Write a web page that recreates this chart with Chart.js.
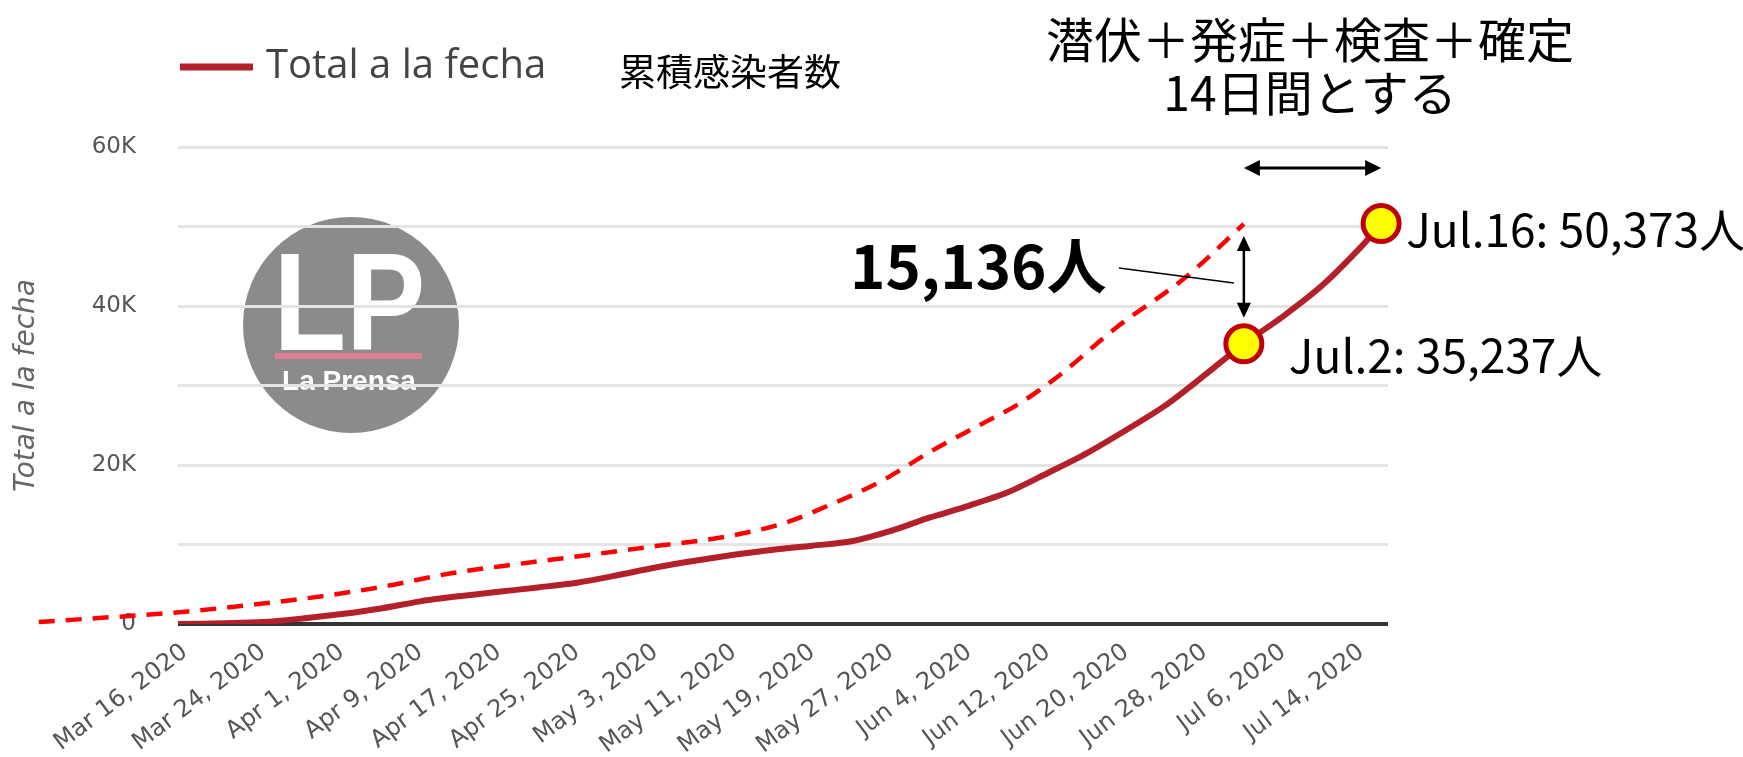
<!DOCTYPE html>
<html><head><meta charset="utf-8">
<script src="https://cdn.jsdelivr.net/npm/chart.js@4.4.1/dist/chart.umd.min.js"></script>
<style>html,body{margin:0;padding:0;background:#fff;}</style>
</head><body>
<canvas id="c" width="1743" height="757"></canvas>
<script>
// Day offsets are counted from Mar 16, 2020 (day 0)
const tickDays = [0, 8, 16, 24, 32, 40, 48, 56, 64, 72, 80, 88, 96, 104, 112, 120];
const tickLabels = ['Mar 16, 2020','Mar 24, 2020','Apr 1, 2020','Apr 9, 2020','Apr 17, 2020','Apr 25, 2020','May 3, 2020','May 11, 2020','May 19, 2020','May 27, 2020','Jun 4, 2020','Jun 12, 2020','Jun 20, 2020','Jun 28, 2020','Jul 6, 2020','Jul 14, 2020'];
const yTickValues = [0, 10000, 20000, 30000, 40000, 50000, 60000];
const yTickLabels = ['0', '', '20K', '', '40K', '', '60K'];

// Total a la fecha (cumulative cases)
const totalDays = [-0.7, 4, 8, 12, 16, 20, 24, 28, 32, 36, 40, 44, 48, 52, 56, 60, 64, 68, 72, 76, 80, 84, 88, 92, 96, 100, 104, 108, 112, 116, 120, 122];
const totalValues = [0, 100, 250, 700, 1250, 1950, 2850, 3500, 4050, 4600, 5200, 6100, 7100, 7950, 8700, 9350, 9850, 10400, 11700, 13400, 14900, 16600, 19000, 21500, 24400, 27500, 31300, 35237, 38700, 42600, 47500, 50373];

// Dashed curve: totals shifted 14 days earlier
const shiftedDays = [-14.9, 0, 7, 14, 20, 27, 34, 41, 48, 55, 61, 66, 71, 76, 81, 85, 89, 95, 102, 108];
const shiftedValues = [250, 1550, 2450, 3500, 4650, 6350, 7550, 8650, 9800, 10950, 12650, 15100, 17950, 21650, 25000, 27650, 31100, 37300, 43550, 50320];

// Highlighted points
const markerDays = [108, 122];
const markerValues = [35237, 50373];
const markerLabels = ['Jul.2: 35,237人', 'Jul.16: 50,373人'];
const gapLabel = '15,136人';
const titleLines = ['潜伏＋発症＋検査＋確定', '14日間とする'];
const legendLabel = 'Total a la fecha';
const legendJa = '累積感染者数';

const toXY = (xs, ys) => xs.map((x, i) => ({x: x, y: ys[i]}));
const JP = '"Noto Sans CJK JP", sans-serif';

function arrow(ctx, x1, y1, x2, y2, head, half, lw) {
  const ang = Math.atan2(y2 - y1, x2 - x1);
  const ux = Math.cos(ang), uy = Math.sin(ang);
  ctx.save();
  ctx.strokeStyle = '#000'; ctx.fillStyle = '#000'; ctx.lineWidth = lw;
  ctx.beginPath();
  ctx.moveTo(x1 + ux * head * 0.8, y1 + uy * head * 0.8);
  ctx.lineTo(x2 - ux * head * 0.8, y2 - uy * head * 0.8);
  ctx.stroke();
  const tri = (px, py, dx, dy) => {
    ctx.beginPath();
    ctx.moveTo(px, py);
    ctx.lineTo(px - dx * head - dy * half, py - dy * head + dx * half);
    ctx.lineTo(px - dx * head + dy * half, py - dy * head - dx * half);
    ctx.closePath(); ctx.fill();
  };
  tri(x2, y2, ux, uy);
  tri(x1, y1, -ux, -uy);
  ctx.restore();
}

const logoPlugin = {
  id: 'logo',
  beforeDraw(chart) {
    const ctx = chart.ctx;
    ctx.save();
    ctx.fillStyle = '#8b8b8b';
    ctx.beginPath(); ctx.arc(351, 325, 108, 0, Math.PI * 2); ctx.fill();
    ctx.fillStyle = '#ffffff';
    ctx.textBaseline = 'alphabetic';
    ctx.save();
    ctx.translate(277, 350);
    ctx.scale(0.9, 1.05);
    ctx.font = 'bold 132px "Liberation Sans", sans-serif';
    ctx.textAlign = 'left';
    ctx.fillText('LP', -4, 0);
    ctx.restore();
    ctx.fillStyle = '#e27d95';
    ctx.fillRect(275, 353, 147, 6);
    ctx.fillStyle = '#ffffff';
    ctx.font = 'bold 28px "Liberation Sans", sans-serif';
    ctx.textAlign = 'center';
    ctx.fillText('La Prensa', 349, 390);
    ctx.restore();
  }
};

const annotPlugin = {
  id: 'annot',
  afterDraw(chart) {
    const ctx = chart.ctx;
    const xs = chart.scales.x, ys = chart.scales.y;
    ctx.save();
    // legend
    ctx.strokeStyle = '#b3202a'; ctx.lineWidth = 7;
    ctx.beginPath(); ctx.moveTo(180, 67); ctx.lineTo(253, 67); ctx.stroke();
    ctx.fillStyle = '#444'; ctx.textBaseline = 'middle'; ctx.textAlign = 'left';
    ctx.font = '40px "Open Sans", sans-serif';
    ctx.fillText(legendLabel, 266, 67);
    ctx.fillStyle = '#000';
    ctx.font = '37px ' + JP;
    ctx.fillText(legendJa, 619, 72);
    // title lines
    ctx.textAlign = 'center';
    ctx.font = '48px ' + JP;
    ctx.fillText(titleLines[0], 1310, 40);
    ctx.fillText(titleLines[1], 1310, 93);
    // 14-day arrow
    const xa = xs.getPixelForValue(markerDays[0]);
    const xb = xs.getPixelForValue(markerDays[1]);
    arrow(ctx, xa, 168, xb, 168, 16, 8, 3);
    // vertical gap arrow
    const yTop = ys.getPixelForValue(shiftedValues[shiftedValues.length - 1]);
    const yBot = ys.getPixelForValue(markerValues[0]);
    arrow(ctx, xa, yTop + 12, xa, yBot - 26, 15, 7, 2.5);
    // leader line
    ctx.strokeStyle = '#000'; ctx.lineWidth = 1.5;
    ctx.beginPath(); ctx.moveTo(1119, 268); ctx.lineTo(xa - 10, 283); ctx.stroke();
    // gap label
    ctx.textAlign = 'left';
    ctx.font = 'bold 60px ' + JP;
    ctx.fillText(gapLabel, 850, 266);
    // marker labels
    ctx.font = '46px ' + JP;
    ctx.fillText(markerLabels[0], xa + 45, ys.getPixelForValue(markerValues[0]) + 12);
    ctx.fillText(markerLabels[1], xb + 25, ys.getPixelForValue(markerValues[1]) + 6);
    ctx.restore();
  }
};

new Chart(document.getElementById('c'), {
  type: 'line',
  data: {
    datasets: [
      {
        type: 'scatter', data: toXY(markerDays, markerValues), order: 0, clip: false,
        pointRadius: 18, pointBorderWidth: 5, pointBackgroundColor: '#ffff00', pointBorderColor: '#c00000', showLine: false
      },
      {
        label: legendLabel, data: toXY(totalDays, totalValues), order: 1,
        borderColor: '#b3202a', borderWidth: 6, pointRadius: 0, tension: 0.3, fill: false
      },
      {
        data: toXY(shiftedDays, shiftedValues), order: 2, clip: false,
        borderColor: '#ff0000', borderWidth: 4.5, borderDash: [16, 11], pointRadius: 0,
        cubicInterpolationMode: 'monotone', fill: false
      }
    ]
  },
  options: {
    responsive: false, animation: false, devicePixelRatio: 1,
    layout: {padding: {left: 0, top: 147, right: 355, bottom: 0}},
    plugins: {legend: {display: false}, tooltip: {enabled: false}},
    scales: {
      x: {
        type: 'linear', min: -0.7, max: 122.7,
        afterBuildTicks: s => { s.ticks = tickDays.map(v => ({value: v})); },
        afterFit: s => { s.height = 133; },
        grid: {display: false}, border: {display: false},
        ticks: {
          autoSkip: false, minRotation: 37, maxRotation: 37, padding: 6, color: '#555',
          font: {family: '"DejaVu Sans"', size: 24},
          callback: v => { const i = tickDays.indexOf(v); return i >= 0 ? tickLabels[i] : ''; }
        }
      },
      y: {
        min: 0, max: 60000,
        afterBuildTicks: s => { s.ticks = yTickValues.map(v => ({value: v})); },
        afterFit: s => { s.width = 178; },
        grid: {
          color: c => (c.tick && c.tick.value === 0) ? '#333' : '#e4e4e4',
          lineWidth: c => (c.tick && c.tick.value === 0) ? 4 : 3,
          drawTicks: false
        },
        border: {display: false},
        ticks: {
          padding: 42, color: '#555', font: {family: '"DejaVu Sans"', size: 23},
          callback: v => { const i = yTickValues.indexOf(v); return i >= 0 ? yTickLabels[i] : ''; }
        },
        title: {
          display: true, text: legendLabel, color: '#666',
          font: {family: '"DejaVu Sans"', size: 28, style: 'italic'},
          padding: {top: 10, bottom: 0}
        }
      }
    }
  },
  plugins: [logoPlugin, annotPlugin]
});
</script>
</body></html>
